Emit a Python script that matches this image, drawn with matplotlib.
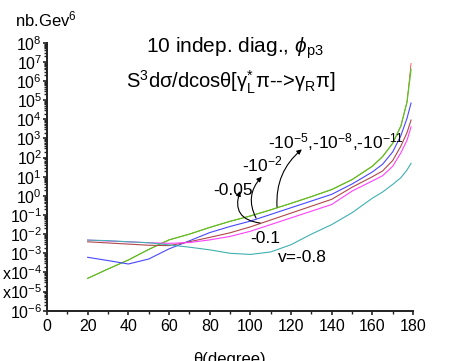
import matplotlib
matplotlib.use("Agg")
import matplotlib.pyplot as plt
import numpy as np

plt.rcParams['font.family'] = ['Liberation Sans', 'DejaVu Sans']
plt.rcParams['mathtext.fontset'] = 'custom'
plt.rcParams['mathtext.rm'] = 'Liberation Sans'
plt.rcParams['mathtext.it'] = 'Liberation Sans:italic'
plt.rcParams['mathtext.bf'] = 'Liberation Sans:bold'

# theta (degree)
theta = [20, 30, 40, 50, 60, 70, 80, 90, 100, 110, 120, 130, 140, 150, 160, 165, 170, 174, 177, 179]

# log10 of S^3 dsigma/dcos(theta) for each v
log_red = [-4.31, -3.82, -3.35, -2.80, -2.30, -2.00, -1.65, -1.33, -1.05, -0.73, -0.39, -0.04, 0.33, 0.85, 1.55, 2.05, 2.75, 3.65, 4.90, 6.92]
log_green = [-4.31, -3.82, -3.35, -2.80, -2.30, -2.00, -1.65, -1.33, -1.05, -0.73, -0.39, -0.04, 0.33, 0.85, 1.55, 2.05, 2.75, 3.65, 4.90, 6.60]
log_blue = [-3.21, -3.38, -3.56, -3.30, -2.77, -2.35, -1.92, -1.60, -1.32, -0.97, -0.62, -0.27, 0.08, 0.62, 1.25, 1.65, 2.30, 3.15, 4.05, 4.85]
log_brown = [-2.40, -2.46, -2.52, -2.58, -2.60, -2.40, -2.17, -1.93, -1.62, -1.26, -0.90, -0.54, -0.18, 0.45, 1.00, 1.30, 1.85, 2.60, 3.30, 3.96]
log_magenta = [-2.31, -2.36, -2.40, -2.45, -2.48, -2.44, -2.30, -2.12, -1.85, -1.50, -1.15, -0.80, -0.45, 0.25, 0.78, 1.05, 1.55, 2.25, 2.90, 3.61]
log_cyan = [-2.31, -2.34, -2.40, -2.45, -2.56, -2.68, -2.82, -3.00, -3.06, -2.93, -2.55, -2.00, -1.50, -0.88, -0.12, 0.20, 0.60, 0.95, 1.35, 1.70]

series = [
    (log_red, '#ff2020', 0.5),
    (log_green, '#55c822', 0.9),
    (log_blue, '#4848ff', 0.8),
    (log_brown, '#b04848', 0.8),
    (log_magenta, '#ff40ff', 0.8),
    (log_cyan, '#40b0b0', 0.8),
]

ytick_exps = list(range(-6, 9))
ytick_labels = ['$10^{-6}$', 'x$10^{-5}$', 'x$10^{-4}$'] + ['$10^{%d}$' % e for e in range(-3, 9)]
xticks = [0, 20, 40, 60, 80, 100, 120, 140, 160, 180]

fig = plt.figure(figsize=(4.5, 3.61), dpi=100)
ax = fig.add_axes([0.1044, 0.1393, 0.8136, 0.7424])

for vals, col, lw in series:
    ax.plot(theta, 10.0 ** np.array(vals), color=col, lw=lw)

ax.set_yscale('log')
ax.set_xlim(0, 180)
ax.set_ylim(1e-6, 1e8)
ax.set_yticks([10.0 ** e for e in ytick_exps])
ax.set_yticklabels(ytick_labels)
ax.yaxis.set_minor_locator(matplotlib.ticker.LogLocator(base=10, subs=np.arange(2, 10), numticks=100))
ax.yaxis.set_minor_formatter(matplotlib.ticker.NullFormatter())
ax.set_xticks(xticks)
ax.set_xticks(range(10, 180, 20), minor=True)

for s in ['top', 'right']:
    ax.spines[s].set_visible(False)
for s in ['left', 'bottom']:
    ax.spines[s].set_linewidth(1.4)
    ax.spines[s].set_color('#222222')

ax.tick_params(axis='both', which='major', direction='out', length=3, width=1.2, color='#222222')
ax.tick_params(axis='both', which='minor', direction='out', length=2, width=1.0, color='#222222')
ax.tick_params(axis='y', which='major', labelsize=11.5, pad=0.5)
ax.tick_params(axis='x', which='major', labelsize=11.5, pad=3)

# titles
fig.text(0.522, 0.853, r'10 indep. diag., $\phi_{\rm p3}$', ha='center', va='baseline', fontsize=15)
fig.text(0.513, 0.756, r'S$^3$dσ/dcosθ[γ$^{*}_{\rm L}$π-->γ$_{\rm R}$π]',
         ha='center', va='baseline', fontsize=14.5)
fig.text(0.033, 0.926, r'nb.Gev$^6$', ha='left', va='baseline', fontsize=12)
fig.text(0.509, 0.025, 'θ(degree)', ha='center', va='top', fontsize=12)

# labels
ax.text(108.7, 10 ** 2.48, r'-10$^{-5}$,-10$^{-8}$,-10$^{-11}$', fontsize=12.5, va='baseline', ha='left')
ax.text(95.9, 10 ** 1.26, r'-10$^{-2}$', fontsize=12.5, va='baseline', ha='left')
ax.text(81.7, 10 ** 0.04, '-0.05', fontsize=12.5, va='baseline', ha='left')
ax.text(99.9, 10 ** -2.45, '-0.1', fontsize=12.5, va='baseline', ha='left')
ax.text(113.6, 10 ** -3.44, 'v=-0.8', fontsize=12.5, va='baseline', ha='left')

akw = dict(arrowstyle='-|>', color='black', lw=0.8, mutation_scale=7, shrinkA=0, shrinkB=0)
ax.annotate('', xy=(125.3, 10 ** 2.43), xytext=(113.1, 10 ** -0.58),
            arrowprops=dict(connectionstyle='arc3,rad=-0.25', **akw))
ax.annotate('', xy=(105.6, 10 ** 1.0), xytext=(102.8, 10 ** -1.16),
            arrowprops=dict(connectionstyle='arc3,rad=-0.35', **akw))
ax.annotate('', xy=(94.9, 10 ** 0.25), xytext=(104.8, 10 ** -1.42),
            arrowprops=dict(connectionstyle='arc3,rad=-0.6', **akw))

fig.savefig('out.png', dpi=100)
